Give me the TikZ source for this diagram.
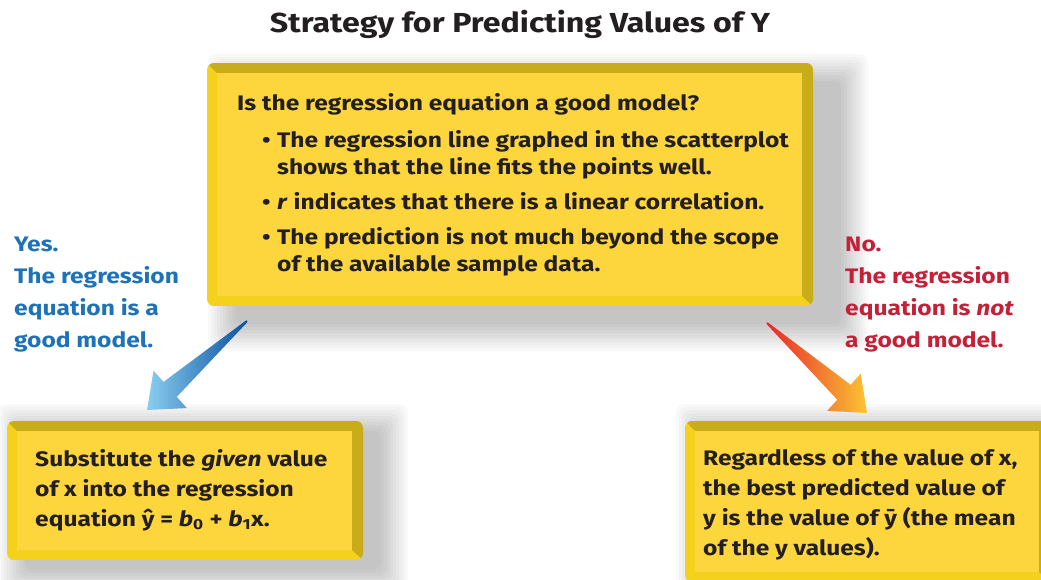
\documentclass[tikz,border=0pt]{standalone}
\usepackage{fontspec}
\setmainfont{Fira Sans}[FakeStretch=1.17]
\usetikzlibrary{calc}
\definecolor{face}{HTML}{FDD63D}
\definecolor{bevdark}{HTML}{C8AC1A}
\definecolor{bevlight}{HTML}{F3D11C}
\definecolor{yescol}{HTML}{1E72B8}
\definecolor{nocol}{HTML}{C42038}
\definecolor{ink}{HTML}{231F20}
\definecolor{bluedark}{HTML}{0A4F9E}
\definecolor{bluelight}{HTML}{8ACFF0}
\definecolor{redtail}{HTML}{E8262A}
\definecolor{yelhead}{HTML}{FCC434}
\newcommand\bul{\hspace*{25pt}\makebox[15pt][l]{•}}
\newcommand\ind{\hspace*{40pt}}
% #1 x0, #2 y0, #3 x1, #4 y1, #5 shadow dx, #6 shadow dy
\newcommand\bevbox[6]{%
  \foreach \e in {0,3,...,27}{%
    \fill[black,opacity=0.025,rounded corners=8]
      ({#1+#5-\e},{#2+#6-\e}) rectangle ({#3+#5+\e},{#4+#6+\e});}
  \begin{scope}
    \clip[rounded corners=7] (#1,#2) rectangle (#3,#4);
    \fill[bevlight] (#1,#2) rectangle (#3,#4);
    \fill[bevdark] (#1,#2) -- (#3,#2) -- (#3,#4) -- ({#3-11},{#4-10})
      -- ({#3-11},{#2+10}) -- ({#1+10},{#2+10}) -- cycle;
    \fill[face] ({#1+10},{#2+10}) rectangle ({#3-11},{#4-10});
  \end{scope}}
\tikzset{
  body/.style={anchor=north west, align=left, inner sep=0pt, text=ink,
    font=\bfseries\fontsize{21}{27}\selectfont},
  lbl/.style={anchor=north west, align=left, inner sep=0pt,
    font=\bfseries\fontsize{21}{32}\selectfont}
}
\begin{document}
\begin{tikzpicture}[x=1pt,y=-1pt]
\useasboundingbox (0,0) rectangle (1041,579);
\fill[white] (0,0) rectangle (1041,579);

\node[font=\bfseries\fontsize{27.5}{30}\selectfont, text=ink] (title) at (520,24)
  {Strategy for Predicting Values of Y};

% boxes
\bevbox{207}{63}{813}{306}{28}{18}
\bevbox{7}{421}{363}{560}{18}{10}
\bevbox{685}{421}{1050}{582}{18}{10}

\node[body] (q) at (237,93) {Is the regression equation a good model?\\[10pt]
\bul The regression line graphed in the scatterplot\\
\ind shows that the line fits the points well.\\[8pt]
\bul \textit{r} indicates that there is a linear correlation.\\[8pt]
\bul The prediction is not much beyond the scope\\
\ind of the available sample data.};

\node[body, font=\bfseries\fontsize{21}{30}\selectfont] (sub) at (35,449)
  {Substitute the \textit{given} value\\
   of x into the regression\\
   equation ŷ = \textit{b}\textsubscript{0} + \textit{b}\textsubscript{1}x.};

\node[body, font=\bfseries\fontsize{21}{30}\selectfont] (mean) at (703,449)
  {Regardless of the value of x,\\
   the best predicted value of\\
   y is the value of ȳ (the mean\\
   of the y values).};

\node[lbl, text=yescol] (yes) at (14,237)
  {Yes.\\ The regression\\ equation is a\\ good model.};
\node[lbl, text=nocol] (no) at (845,237)
  {No.\\ The regression\\ equation is \textit{not}\\ a good model.};

% blue arrow
\coordinate (bT) at (247,321);
\coordinate (bP) at (147,410);
\coordinate (bB) at ($(bP)!31pt!(bT)$);
\shade[left color=bluelight, right color=bluedark]
  ($(bT)!1pt!90:(bP)$) -- ($(bB)!10pt!90:(bP)$) -- ($(bB)!25pt!90:(bP)$)
  -- (bP) -- ($(bB)!25pt!-90:(bP)$) -- ($(bB)!10pt!-90:(bP)$)
  -- ($(bT)!1pt!-90:(bP)$) -- cycle;

% red arrow
\coordinate (rT) at (767,323);
\coordinate (rP) at (867,413);
\coordinate (rB) at ($(rP)!31pt!(rT)$);
\shade[left color=redtail, right color=yelhead]
  ($(rT)!1pt!90:(rP)$) -- ($(rB)!10pt!90:(rP)$) -- ($(rB)!25pt!90:(rP)$)
  -- (rP) -- ($(rB)!25pt!-90:(rP)$) -- ($(rB)!10pt!-90:(rP)$)
  -- ($(rT)!1pt!-90:(rP)$) -- cycle;
\end{tikzpicture}
\end{document}
